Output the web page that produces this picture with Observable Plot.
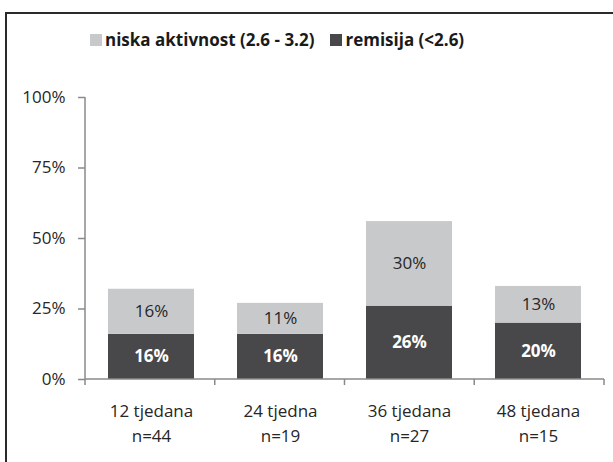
<!DOCTYPE html>
<html>
<head>
<meta charset="utf-8">
<script src="https://cdn.jsdelivr.net/npm/d3@7"></script>
<script src="https://cdn.jsdelivr.net/npm/@observablehq/plot@0.6"></script>
<style>
  html, body { margin: 0; padding: 0; background: #fff; }
  #wrap { position: relative; width: 613px; height: 462px; overflow: hidden; background: #fff; font-family: "Open Sans", sans-serif; }
  #frame { position: absolute; left: 5px; top: 12px; width: 700px; height: 600px; border: 2px solid #2a2a2a; box-sizing: border-box; }
  #legend { position: absolute; left: 90px; top: 28px; display: flex; align-items: center; font-weight: bold; font-size: 17px; color: #1a1a1a; white-space: nowrap; }
  #legend .item { display: flex; align-items: center; margin-right: 16px; }
  #legend .sw { width: 12px; height: 12px; margin-right: 3px; }
  #chart { position: absolute; left: 0; top: 82px; }
</style>
</head>
<body>
<div id="wrap">
  <div id="frame"></div>
  <div id="legend"></div>
  <div id="chart"></div>
</div>
<script>
const categories = ["12 tjedana", "24 tjedna", "36 tjedana", "48 tjedana"];
const nLabels = ["n=44", "n=19", "n=27", "n=15"];
const seriesNames = ["niska aktivnost (2.6 - 3.2)", "remisija (<2.6)"];
const seriesColors = ["#c8c9cb", "#48484a"];
const niska = [16, 11, 30, 13];
const remisija = [16, 16, 26, 20];
const yTicks = [0, 25, 50, 75, 100];

// table: remisija first (bottom of stack), then niska
const data = [];
categories.forEach((c, i) => {
  data.push({cat: c, series: seriesNames[1], value: remisija[i]});
  data.push({cat: c, series: seriesNames[0], value: niska[i]});
});

// legend
const legend = document.getElementById("legend");
seriesNames.forEach((s, i) => {
  const it = document.createElement("div");
  it.className = "item";
  const sw = document.createElement("div");
  sw.className = "sw";
  sw.style.background = seriesColors[i];
  const tx = document.createElement("span");
  tx.textContent = s;
  it.appendChild(sw);
  it.appendChild(tx);
  legend.appendChild(it);
});

const axisColor = "#8a8a8a";
const axisLines = (index, scales, values, dim) => {
  const g = d3.create("svg:g").attr("stroke", axisColor).attr("stroke-width", 1.5).attr("fill", "none");
  const x0 = dim.marginLeft, x1 = dim.width - dim.marginRight;
  const y0 = scales.y(0), yTop = scales.y(100);
  g.append("line").attr("x1", x0).attr("x2", x0).attr("y1", yTop).attr("y2", y0);
  g.append("line").attr("x1", x0).attr("x2", x1).attr("y1", y0).attr("y2", y0);
  const step = (x1 - x0) / categories.length;
  for (let i = 0; i <= categories.length; i++) {
    const xx = x0 + i * step;
    g.append("line").attr("x1", xx).attr("x2", xx).attr("y1", y0).attr("y2", y0 + 6);
  }
  return g.node();
};

const chart = Plot.plot({
  width: 613,
  height: 380,
  marginLeft: 85,
  marginRight: 9,
  marginTop: 15,
  marginBottom: 83,
  style: {fontFamily: "Open Sans, sans-serif", fontSize: "17px", color: "#262626", background: "transparent"},
  x: {domain: categories, paddingInner: 0.337, paddingOuter: 0.1685, axis: null, label: null},
  y: {domain: [0, 100], axis: null, label: null},
  color: {domain: seriesNames, range: seriesColors},
  marks: [
    Plot.barY(data, Plot.stackY({x: "cat", y: "value", fill: "series"})),
    Plot.text(data, Plot.stackY({x: "cat", y: "value", text: d => d.series === seriesNames[1] ? d.value + "%" : null, fill: "white", fontWeight: "bold", fontSize: 17})),
    Plot.text(data, Plot.stackY({x: "cat", y: "value", text: d => d.series === seriesNames[0] ? d.value + "%" : null, fill: "#262626", fontSize: 17})),
    Plot.axisY({ticks: yTicks, tickFormat: d => d + "%", tickSize: 7, tickPadding: 13, stroke: axisColor, strokeWidth: 1.5, fill: "#262626", fontSize: 17, label: null}),
    Plot.axisX({tickSize: 0, tickPadding: 25, fill: "#262626", fontSize: 17, label: null}),
    Plot.axisX({tickSize: 0, tickPadding: 50, tickFormat: d => nLabels[categories.indexOf(d)], fill: "#262626", fontSize: 17, label: null}),
    axisLines
  ]
});
document.getElementById("chart").appendChild(chart);
</script>
</body>
</html>
